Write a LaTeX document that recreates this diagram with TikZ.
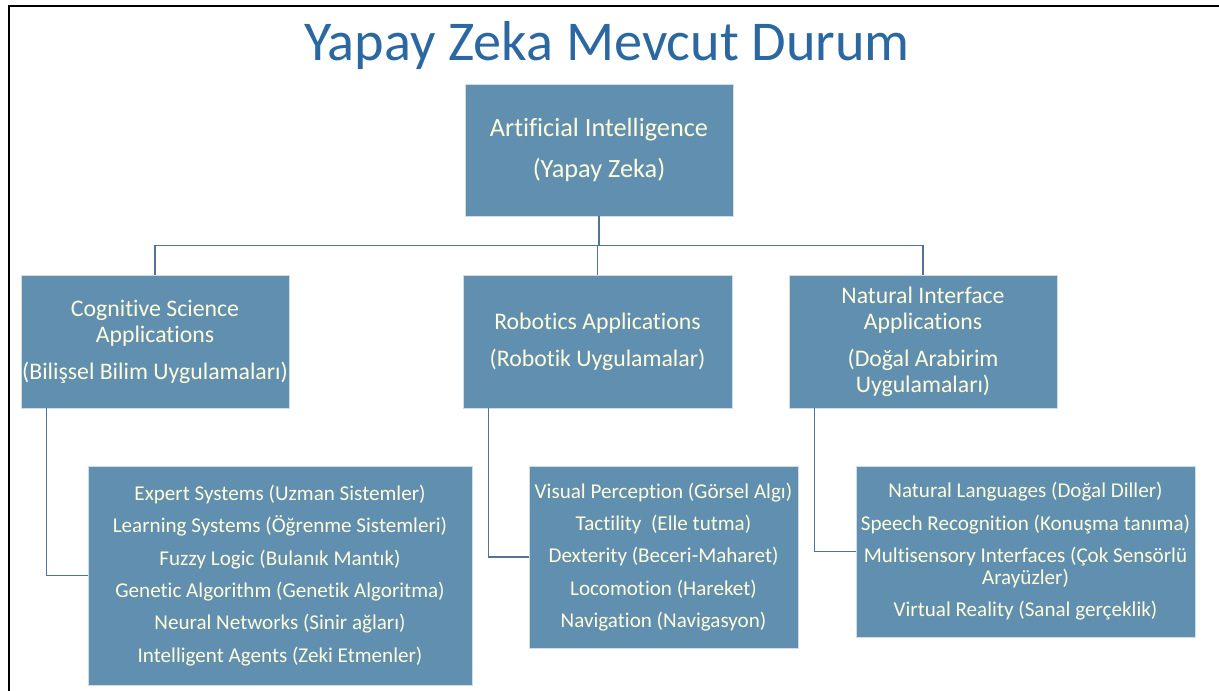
\documentclass[tikz,border=0pt]{standalone}
\usepackage{fontspec}
\setmainfont{Carlito}[Ligatures={NoCommon}]
\usetikzlibrary{calc, positioning}
\definecolor{boxblue}{RGB}{97,143,176}
\definecolor{boxtext}{RGB}{255,253,220}
\definecolor{titleblue}{RGB}{43,103,161}
\definecolor{linkgray}{RGB}{84,114,148}
\tikzstyle{block} = [rectangle, fill=boxblue, draw=white!70!boxblue, line width=0.4pt, text=boxtext, align=center, inner sep=0pt]
\tikzstyle{head} = [block, font=\fontsize{18.7}{22}\selectfont]
\tikzstyle{branch} = [block, font=\fontsize{16.9}{18.5}\selectfont]
\tikzstyle{leaf} = [block, font=\fontsize{15}{15.6}\selectfont]
\tikzstyle{link} = [draw=linkgray, line width=1pt]
\tikzstyle{frame} = [draw=black, line width=1.4pt]

\begin{document}
\begin{tikzpicture}[x=0.025cm, y=-0.025cm]
	\useasboundingbox (0,0) rectangle (1219,691);
	\draw [frame] (9,691) -- (9,6) -- (1219,6);
	\node (Title) [text=titleblue, font=\fontsize{40}{48}\selectfont] at (607,46) {Yapay Zeka Mevcut Durum};
	\node (Root) [head, minimum width=6.7cm, minimum height=3.3cm] at (599,150) {Artificial Intelligence\\[6.5pt](Yapay Zeka)};
	\node (Cognitive) [branch, minimum width=6.7cm, minimum height=3.325cm] at (155,341.5) {Cognitive Science\\Applications\\[7.8pt](Bilişsel Bilim Uygulamaları)};
	\node (Robotics) [branch, minimum width=6.725cm, minimum height=3.325cm] at (597.5,341.5) {Robotics Applications\\[7.8pt](Robotik Uygulamalar)};
	\node (Natural) [branch, minimum width=6.7cm, minimum height=3.325cm] at (923,341.5) {Natural Interface\\Applications\\[7.8pt](Doğal Arabirim\\Uygulamaları)};
	\node (CognitiveList) [leaf, minimum width=9.6cm, minimum height=5.475cm] at (280,575.5) {Expert Systems (Uzman Sistemler)\\[7.4pt]Learning Systems (Öğrenme Sistemleri)\\[7.4pt]Fuzzy Logic (Bulanık Mantık)\\[7.4pt]Genetic Algorithm (Genetik Algoritma)\\[7.4pt]Neural Networks (Sinir ağları)\\[7.4pt]Intelligent Agents (Zeki Etmenler)};
	\node (RoboticsList) [leaf, minimum width=6.725cm, minimum height=4.55cm] at (663.5,557) {Visual Perception (Görsel Algı)\\[7.4pt]Tactility\ \ (Elle tutma)\\[7.4pt]Dexterity (Beceri-Maharet)\\[7.4pt]Locomotion (Hareket)\\[7.4pt]Navigation (Navigasyon)};
	\node (NaturalList) [leaf, minimum width=8.475cm, minimum height=4.275cm] at (1025.5,551.5) {Natural Languages (Doğal Diller)\\[7.4pt]Speech Recognition (Konuşma tanıma)\\[7.4pt]Multisensory Interfaces (Çok Sensörlü\\Arayüzler)\\[7.4pt]Virtual Reality (Sanal gerçeklik)};
	\draw [link] (Root.south) -- ++(0,29) coordinate (Bus);
	\draw [link] (Cognitive.north) |- (Bus) -| (Natural.north);
	\draw [link] (Robotics.north) -- (Robotics.north |- Bus);
	\draw [link] ($(Cognitive.south west)+(26,0)$) |- (CognitiveList.west);
	\draw [link] ($(Robotics.south west)+(26,0)$) |- (RoboticsList.west);
	\draw [link] ($(Natural.south west)+(26,0)$) |- (NaturalList.west);
\end{tikzpicture}
\end{document}
